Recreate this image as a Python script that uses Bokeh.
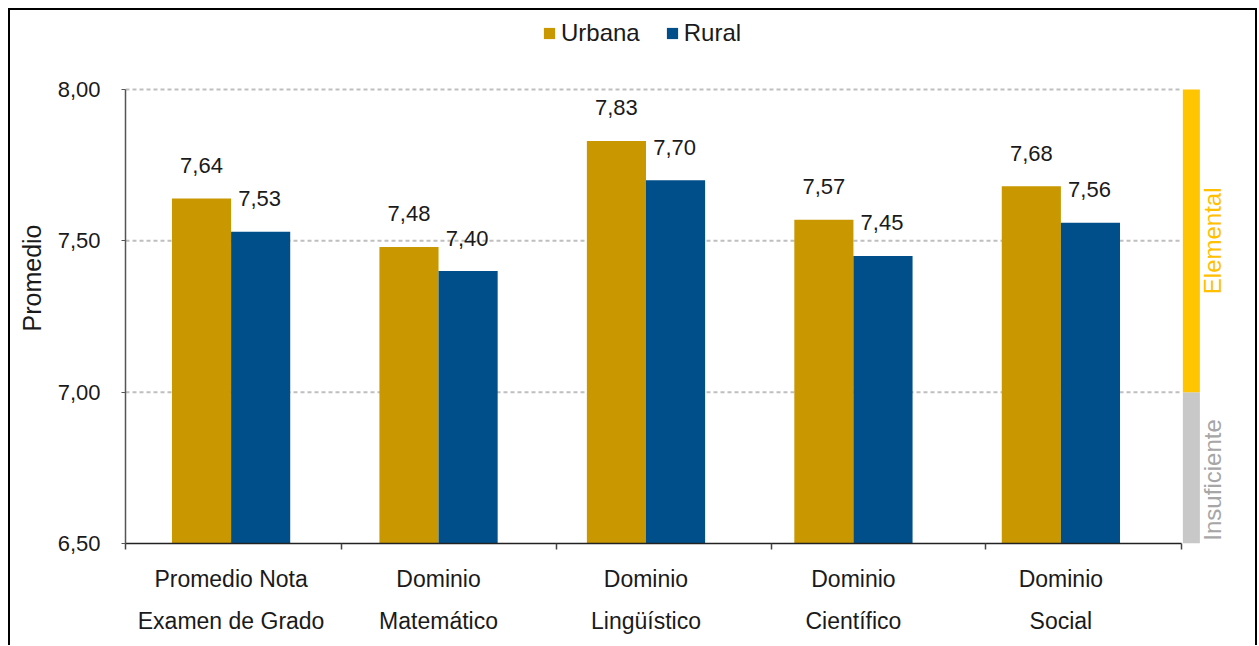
from bokeh.plotting import figure
from bokeh.models import (Range1d, LinearAxis, FixedTicker, ColumnDataSource,
                          Legend, LegendItem)
from bokeh.core.properties import value
from bokeh.embed import file_html
from bokeh.resources import INLINE
import math

# ---------------- data ----------------
categorias = ["Promedio Nota\nExamen de Grado", "Dominio\nMatemático",
              "Dominio\nLingüístico", "Dominio\nCientífico", "Dominio\nSocial"]
urbana = [7.64, 7.48, 7.83, 7.57, 7.68]
rural = [7.53, 7.40, 7.70, 7.45, 7.56]
y_ticks = [6.50, 7.00, 7.50, 8.00]
y_tick_labels = ["6,50", "7,00", "7,50", "8,00"]
bandas = ["Insuficiente", "Elemental"]
banda_desde = [6.50, 7.00]
banda_hasta = [7.00, 8.00]

# ---------------- styling ----------------
FONT = "Liberation Sans"
C_URB = "#C99700"
C_RUR = "#004F8A"
C_BANDA = ["#C8C8C8", "#FFC600"]
C_BANDA_TXT = ["#A6A6A6", "#FFC000"]
TXT = "#1a1a1a"

n = len(categorias)
centros = [i + 0.5 for i in range(n)]
bw = 0.285

p = figure(width=1257, height=645, output_backend="svg", toolbar_location=None,
           x_range=Range1d(-0.009, 5.414), y_range=Range1d(6.5, 8.2544),
           x_axis_type=None, y_axis_type=None,
           min_border_left=125, min_border_right=7, min_border_top=12,
           min_border_bottom=102)
p.outline_line_color = None
p.background_fill_color = "white"
p.border_fill_color = None
p.styles = {"box-shadow": "inset 8px 8px 0 white, inset 10px 10px 0 #000, "
                          "inset -2px 0 0 #000",
            "background": "white"}

# dashed gridlines
gy = [t for t in y_ticks if t > y_ticks[0]]
p.segment(x0=[-0.009] * len(gy), x1=[5.083] * len(gy), y0=gy, y1=gy,
          line_color="#BFBFBF", line_width=2, line_dash="4 3")

src = ColumnDataSource(dict(
    xu=[c - bw / 2 for c in centros], xr=[c + bw / 2 for c in centros],
    u=urbana, r=rural,
    lu=[f"{v:.2f}".replace(".", ",") for v in urbana],
    lr=[f"{v:.2f}".replace(".", ",") for v in rural]))

ru = p.vbar(x="xu", top="u", bottom=6.5, width=bw, source=src,
            fill_color=C_URB, line_color=None)
rr = p.vbar(x="xr", top="r", bottom=6.5, width=bw, source=src,
            fill_color=C_RUR, line_color=None)

p.text(x="xu", y="u", text="lu", source=src, text_align="center",
       text_baseline="alphabetic", y_offset=-33, text_font=value(FONT),
       text_font_size="22px", text_color=TXT)
p.text(x="xr", y="r", text="lr", source=src, text_align="center",
       text_baseline="alphabetic", y_offset=-33, x_offset=-1,
       text_font=value(FONT), text_font_size="22px", text_color=TXT)

# rating band on the right
p.quad(left=5.088, right=5.170, bottom=banda_desde, top=banda_hasta,
       fill_color=C_BANDA, line_color=None)
p.text(x=[5.232, 5.232], y=[6.71, 7.50], text=bandas, angle=math.pi / 2,
       text_align="center", text_baseline="middle", text_font=value(FONT),
       text_font_size="24px", text_color=C_BANDA_TXT)

# y axis
ya = LinearAxis(ticker=FixedTicker(ticks=y_ticks), bounds=(6.5, 8.0),
                axis_label="Promedio")
ya.major_label_overrides = {t: l for t, l in zip(y_ticks, y_tick_labels)}
ya.axis_line_color = "#555555"
ya.axis_line_width = 1.5
ya.major_tick_line_color = "#555555"
ya.major_tick_in = 0
ya.major_tick_out = 4
ya.minor_tick_line_color = None
ya.major_label_standoff = 21
ya.major_label_text_font = FONT
ya.major_label_text_font_size = "22px"
ya.major_label_text_color = TXT
ya.axis_label_text_font = FONT
ya.axis_label_text_font_size = "25px"
ya.axis_label_text_font_style = "normal"
ya.axis_label_text_color = TXT
ya.axis_label_standoff = 9
p.add_layout(ya, "left")

# x axes (two label lines)
sep = [-0.009, 1.031, 2.068, 3.104, 4.136, 5.083]
lineas1 = [c.split("\n")[0] for c in categorias]
lineas2 = [c.split("\n")[1] for c in categorias]

xa1 = LinearAxis(ticker=FixedTicker(ticks=centros, minor_ticks=sep),
                 bounds=(-0.009, 5.083))
xa1.major_label_overrides = {c: l for c, l in zip(centros, lineas1)}
xa1.axis_line_color = "#222222"
xa1.axis_line_width = 1.5
xa1.major_tick_line_color = None
xa1.major_tick_in = 0
xa1.major_tick_out = 6
xa1.minor_tick_line_color = "#444444"
xa1.minor_tick_line_width = 1.5
xa1.minor_tick_in = 0
xa1.minor_tick_out = 6
xa1.major_label_standoff = 16
xa1.major_label_text_font = FONT
xa1.major_label_text_font_size = "23px"
xa1.major_label_text_color = TXT
p.add_layout(xa1, "below")

xa2 = LinearAxis(ticker=FixedTicker(ticks=centros, minor_ticks=[]),
                 bounds=(-0.009, 5.083))
xa2.major_label_overrides = {c: l for c, l in zip(centros, lineas2)}
xa2.axis_line_color = None
xa2.major_tick_line_color = None
xa2.minor_tick_line_color = None
xa2.major_tick_in = 0
xa2.major_tick_out = 0
xa2.major_label_standoff = 13
xa2.major_label_text_font = FONT
xa2.major_label_text_font_size = "23px"
xa2.major_label_text_color = TXT
p.add_layout(xa2, "below")

# legend
leg = Legend(items=[LegendItem(label="Urbana", renderers=[ru]),
                    LegendItem(label="Rural", renderers=[rr])],
             orientation="horizontal", location=(417, 496))
leg.padding = 0
leg.margin = 0
leg.spacing = 25
leg.glyph_width = 14
leg.glyph_height = 14
leg.label_height = 20
leg.label_standoff = 5
leg.label_text_font = FONT
leg.label_text_font_size = "24px"
leg.label_text_color = TXT
leg.label_text_baseline = "middle"
leg.border_line_color = None
leg.background_fill_alpha = 0
p.add_layout(leg)

open("out.html", "w").write(file_html(p, INLINE))
